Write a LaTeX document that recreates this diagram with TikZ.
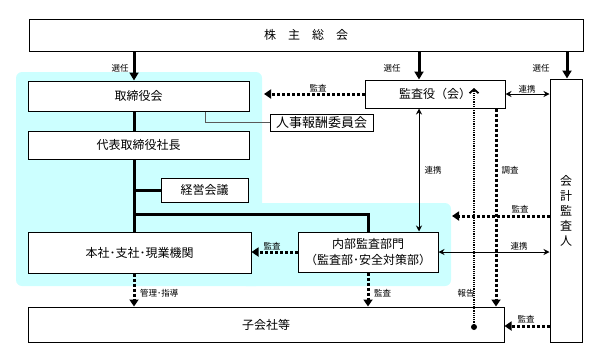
\documentclass[tikz,border=0pt]{standalone}
\usepackage{fontspec}
\setmainfont{Noto Sans CJK JP}
\usetikzlibrary{arrows.meta}
\definecolor{cyanbg}{RGB}{204,255,255}
\tikzset{
  box/.style={draw, fill=white, line width=1pt, inner sep=0pt, font=\fontsize{12}{14}\selectfont},
  lbl/.style={inner sep=0pt, font=\fontsize{8.5}{10}\selectfont},
  thickline/.style={line width=3pt},
  thickarrow/.style={line width=3pt, -{Triangle[width=9pt,length=8pt]}},
  dotarrow/.style={line width=3pt, dash pattern=on 3pt off 2pt, -{Triangle[width=9pt,length=7pt]}},
  twoway/.style={line width=1pt, {Stealth[length=6pt,width=6pt,inset=2pt]}-{Stealth[length=6pt,width=6pt,inset=2pt]}},
}
\begin{document}
\begin{tikzpicture}[x=1pt,y=-1pt]
\useasboundingbox (0,0) rectangle (601,362);
% cyan background
\fill[cyanbg, rounded corners=6pt] (16,72) rectangle (262,286);
\fill[cyanbg, rounded corners=6pt] (240,203) rectangle (451,286);

% x positions
\coordinate (xa) at (134,0);
\coordinate (xb) at (419,0);
\coordinate (xc) at (567,0);
\coordinate (xi) at (368,0);
\coordinate (xs) at (496,0);

% boxes
\node[box, minimum width=554pt, minimum height=32pt] (kabu) at (306,35) {株\hspace{12pt}主\hspace{12pt}総\hspace{12pt}会};
\node[box, minimum width=221pt, minimum height=30pt] (tori) at (138.5,96) {取締役会};
\node[box, minimum width=221pt, minimum height=28pt] (daihyo) at (138.5,145) {代表取締役社長};
\node[box, minimum width=87pt, minimum height=24pt] (keiei) at (204.5,190) {経営会議};
\node[box, minimum width=223pt, minimum height=41pt] (honsha) at (139.5,252.5) {本社･支社･現業機関};
\node[box, minimum width=140pt, minimum height=40pt, align=center, font=\fontsize{12}{16}\selectfont] (naibu) at (368,252) {内部監査部門\\（監査部･安全対策部）};
\node[box, minimum width=476pt, minimum height=35pt] (kogaisha) at (266,324.5) {子会社等};
\node[box, minimum width=140pt, minimum height=28pt] (kansa) at (435,94) {監査役（会）};
\node[box, minimum width=103pt, minimum height=17pt, font=\fontsize{13}{14}\selectfont] (jinji) at (321.5,122.5) {人事報酬委員会};
\node[box, minimum width=32pt, minimum height=263pt] (kaikei) at (566,210.5) {};
\node[inner sep=0pt, align=center, font=\fontsize{12}{15}\selectfont] (kaikeitxt) at (kaikei.center) {会\\計\\監\\査\\人};

% election arrows
\draw[thickarrow] (kabu.south -| xa) -- (tori.north -| xa);
\draw[thickarrow] (kabu.south -| xb) -- (kansa.north -| xb);
\draw[thickarrow] (kabu.south -| xc) -- (kaikei.north -| xc);
\node[lbl] (l1) at (120,68) {選任};
\node[lbl] (l2) at (392,68) {選任};
\node[lbl] (l3) at (541,68) {選任};

% thick hierarchy lines
\draw[thickline] (tori.south -| xa) -- (daihyo.north -| xa);
\draw[thickline] (daihyo.south -| xa) -- (honsha.north -| xa);
\coordinate (bk) at (134,190);
\draw[thickline] (bk) -- (keiei.west);
\coordinate (bn) at (134,214);
\draw[thickline, line join=miter] (bn) -- (bn -| xi) -- (naibu.north -| xi);

% tori to jinji
\coordinate (jt) at (205,0);
\draw[gray!70!black, line width=1pt] (tori.south -| jt) |- (jinji.west);

% audit from kansa to tori
\coordinate (tt) at (264,94);
\draw[dotarrow] (kansa.west) -- (tt);
\node[lbl] (l4) at (318,88) {監査};

% kansa <-> naibu
\draw[twoway] (kansa.south -| xb) -- (naibu.north -| xb);
\node[lbl] (l5) at (433,170) {連携};

% report
\coordinate (rdot) at (474,327);
\coordinate (rtip) at (474,88);
\draw[line width=1.3pt, dash pattern=on 1.2pt off 1pt, -{Straight Barb[length=4pt,width=9pt,line width=1.8pt]}] (rdot) -- (rtip);
\fill (rdot) circle (3);
\node[lbl] (l6) at (466,293) {報告};

% investigation
\draw[dotarrow] (kansa.south -| xs) -- (kogaisha.north -| xs);
\node[lbl] (l7) at (510,170) {調査};

% kansa <-> kaikei
\draw[twoway] (kansa.east) -- (kaikei.west |- kansa.east);
\node[lbl] (l8) at (527,89) {連携};

% kaikei audit to cyan
\coordinate (ca) at (452,216);
\draw[dotarrow] (kaikei.west |- ca) -- (ca);
\node[lbl] (l9) at (520,209) {監査};

% naibu <-> kaikei
\draw[twoway] (naibu.east) -- (kaikei.west |- naibu.east);
\node[lbl] (l10) at (519,246) {連携};

% kaikei -> kogaisha
\coordinate (ck) at (0,326);
\draw[dotarrow] (kaikei.west |- ck) -- (kogaisha.east |- ck);
\node[lbl] (l11) at (526,319) {監査};

% naibu -> honsha
\draw[dotarrow] (naibu.west) -- (honsha.east |- naibu.west);
\node[lbl] (l12) at (272,246) {監査};

% honsha -> kogaisha
\draw[dotarrow] (honsha.south -| xa) -- (kogaisha.north -| xa);
\node[lbl, anchor=west] (l13) at (140,293) {管理･指導};

% naibu -> kogaisha
\draw[dotarrow] (naibu.south -| xi) -- (kogaisha.north -| xi);
\node[lbl, anchor=west] (l14) at (374,293) {監査};
\end{tikzpicture}
\end{document}
